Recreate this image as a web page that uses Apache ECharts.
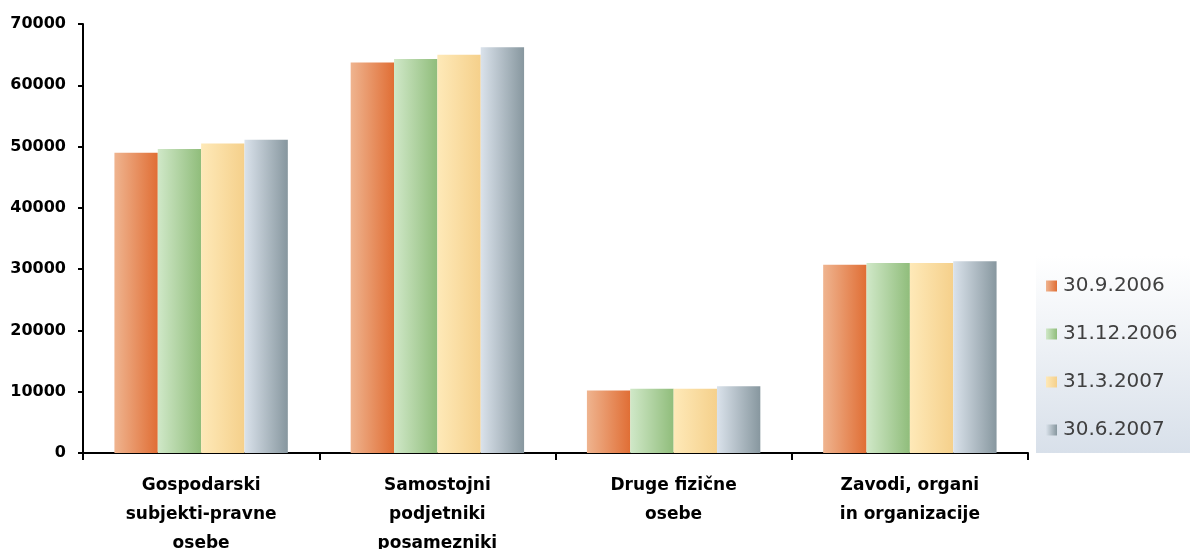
<!DOCTYPE html>
<html>
<head>
<meta charset="utf-8">
<script src="https://cdn.jsdelivr.net/npm/echarts@6/dist/echarts.min.js"></script>
<style>
html,body{margin:0;padding:0;background:#fff;overflow:hidden;}
#chart{width:1190px;height:549px;}
</style>
</head>
<body>
<div id="chart"></div>
<script>
var categories = ["Gospodarski\nsubjekti-pravne\nosebe", "Samostojni\npodjetniki\nposamezniki", "Druge fizične\nosebe", "Zavodi, organi\nin organizacije"];
var seriesNames = ["30.9.2006", "31.12.2006", "31.3.2007", "30.6.2007"];
var s2006q3 = [49000, 63700, 10200, 30700];
var s2006q4 = [49600, 64300, 10500, 31000];
var s2007q1 = [50500, 65000, 10500, 31000];
var s2007q2 = [51100, 66200, 10900, 31300];
var yTicks = [0, 10000, 20000, 30000, 40000, 50000, 60000, 70000];

var values = [s2006q3, s2006q4, s2007q1, s2007q2];
var gradStops = [
  ["#efb48f", "#e06e35"],
  ["#d0e8c8", "#90bd7b"],
  ["#fee9b8", "#f5d08b"],
  ["#dae2eb", "#87979f"]
];
function grad(c){
  return {type:'linear', x:0, y:0, x2:1, y2:0, colorStops:[{offset:0,color:c[0]},{offset:1,color:c[1]}]};
}
var series = seriesNames.map(function(n,i){
  return {
    name:n, type:'bar', data:values[i], barGap:0, barCategoryGap:'26.6%',
    itemStyle:{color:grad(gradStops[i])}
  };
});

var chart = echarts.init(document.getElementById('chart'));
chart.setOption({
  animation:false,
  backgroundColor:'#fff',
  grid:{left:83, width:945, top:24, height:429, containLabel:false, outerBoundsMode:'none'},
  graphic:[{
    type:'rect', z:0, silent:true,
    shape:{x:1036, y:256, width:154, height:197},
    style:{fill:{type:'linear',x:0,y:0,x2:0,y2:1,colorStops:[{offset:0,color:'#ffffff'},{offset:1,color:'#d8e0ea'}]}}
  }],
  legend:{
    orient:'vertical', left:1046, top:274, padding:0,
    itemWidth:11, itemHeight:11, itemGap:24,
    icon:'rect',
    textStyle:{fontFamily:'DejaVu Sans', fontSize:20, color:'#404040', lineHeight:24, padding:[0,0,0,1]},
    data:seriesNames, z:5
  },
  xAxis:{
    type:'category', data:categories,
    axisLine:{lineStyle:{color:'#000', width:2}},
    axisTick:{show:true, length:7, lineStyle:{color:'#000', width:2}},
    axisLabel:{interval:0, margin:18, fontFamily:'DejaVu Sans', fontWeight:'bold', fontSize:17, lineHeight:29, color:'#000'}
  },
  yAxis:{
    type:'value', min:yTicks[0], max:yTicks[yTicks.length-1], interval:yTicks[1]-yTicks[0],
    splitLine:{show:false},
    axisLine:{show:true, lineStyle:{color:'#000', width:2}},
    axisTick:{show:true, length:5, lineStyle:{color:'#000', width:2}},
    axisLabel:{margin:17, fontFamily:'DejaVu Sans', fontWeight:'bold', fontSize:16, color:'#000',
      formatter:function(v){ return String(v); }}
  },
  series:series
});
</script>
</body>
</html>
